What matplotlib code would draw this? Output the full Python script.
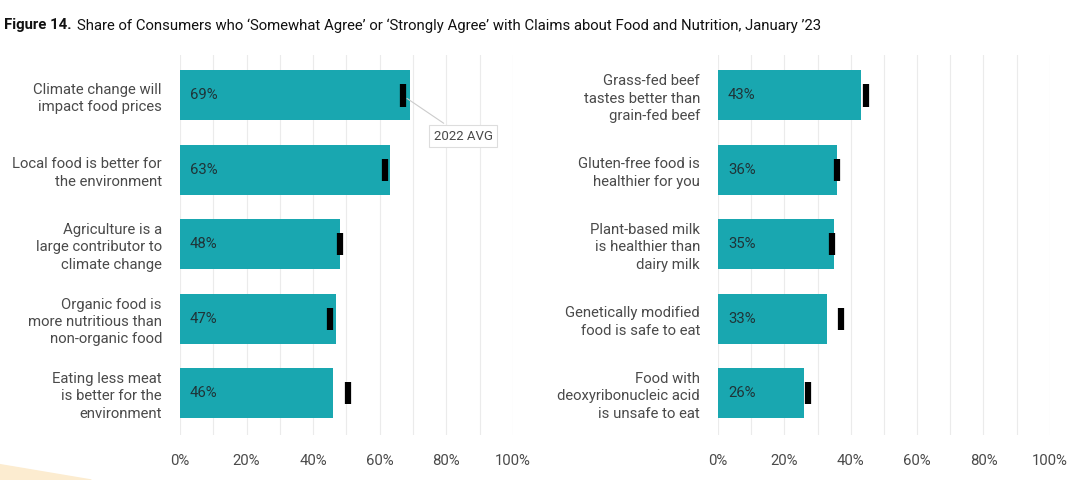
import numpy as np
import matplotlib.pyplot as plt
from matplotlib.patches import Polygon

plt.rcParams['font.family'] = ['Roboto', 'DejaVu Sans']

# left panel
leftLabels = ['Climate change will\nimpact food prices',
              'Local food is better for\nthe environment',
              'Agriculture is a\nlarge contributor to\nclimate change',
              'Organic food is\nmore nutritious than\nnon-organic food',
              'Eating less meat\nis better for the\nenvironment']
leftValues = [69, 63, 48, 47, 46]
leftAvg2022 = [67, 61.5, 48, 45, 50.5]

# right panel
rightLabels = ['Grass-fed beef\ntastes better than\ngrain-fed beef',
               'Gluten-free food is\nhealthier for you',
               'Plant-based milk\nis healthier than\ndairy milk',
               'Genetically modified\nfood is safe to eat',
               'Food with\ndeoxyribonucleic acid\nis unsafe to eat']
rightValues = [43, 36, 35, 33, 26]
rightAvg2022 = [44.5, 36, 34.5, 37, 27]

xTicks = [0, 20, 40, 60, 80, 100]
xTickLabels = ['0%', '20%', '40%', '60%', '80%', '100%']

barColor = '#19a7b0'
textColor = '#4a4a4a'
fontSize = 10.7

fig = plt.figure(figsize=(10.74, 4.8), dpi=100)

# faint decoration in the bottom left corner
fig.patches.append(Polygon([[0, 0], [0, 0.032], [0.085, 0.0]], closed=True,
                           transform=fig.transFigure, color='#fcecd0',
                           zorder=0))

axLeft = fig.add_axes([0.1676, 0.094, 0.310, 0.791])
axRight = fig.add_axes([0.6685, 0.094, 0.309, 0.791])


def drawPanel(ax, labels, values, avgs):
    y = np.arange(len(values))
    ax.barh(y, values, height=0.67, color=barColor, zorder=2)
    ax.vlines(avgs, y - 0.15, y + 0.15, color='black', linewidth=4.5, zorder=3)
    for yi, v in zip(y, values):
        ax.text(3, yi, f'{v}%', va='center', ha='left', fontsize=fontSize,
                color='#1f3438', zorder=4)
    ax.set_xlim(0, 100)
    ax.set_ylim(4.56, -0.54)
    ax.set_xticks(xTicks)
    ax.set_xticklabels(xTickLabels, fontsize=fontSize, color=textColor)
    ax.set_xticks(np.arange(0, 101, 10), minor=True)
    ax.grid(True, axis='x', which='both', color='#ebebeb', linewidth=0.8,
            zorder=0)
    ax.set_yticks(y)
    ax.set_yticklabels(labels, fontsize=fontSize, color=textColor,
                       linespacing=1.3, ha='right')
    ax.tick_params(axis='both', which='both', length=0)
    ax.tick_params(axis='x', pad=14)
    ax.tick_params(axis='y', pad=13)
    for s in ax.spines.values():
        s.set_visible(False)


drawPanel(axLeft, leftLabels, leftValues, leftAvg2022)
drawPanel(axRight, rightLabels, rightValues, rightAvg2022)

axLeft.annotate('2022 AVG', xy=(leftAvg2022[0] + 0.5, 0.02), xytext=(85, 0.55),
                fontsize=9.5, color=textColor, ha='center', va='center',
                bbox=dict(boxstyle='square,pad=0.35', fc='white', ec='#dddddd',
                          lw=0.8),
                arrowprops=dict(arrowstyle='-', color='#cccccc', lw=0.8),
                zorder=5)

titleBold = fig.text(0.004, 0.947, 'Figure 14.', fontsize=fontSize,
                     fontweight='bold', color='#111111', ha='left',
                     va='center')
axLeft.annotate('Share of Consumers who \u2018Somewhat Agree\u2019 or '
                '\u2018Strongly Agree\u2019 with Claims about Food and '
                'Nutrition, January \u201923',
                xy=(1, 0.5), xycoords=titleBold, xytext=(3.5, 0),
                textcoords='offset points', fontsize=fontSize,
                color='#111111', ha='left', va='center',
                annotation_clip=False)

fig.savefig('out.png', dpi=100)
